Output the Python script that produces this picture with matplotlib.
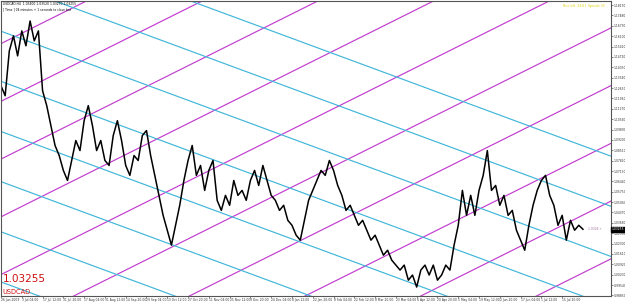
import numpy as np
import matplotlib
matplotlib.use("Agg")
import matplotlib.pyplot as plt

# USDCAD H4 closes, one value every 12 bars
closes = [
    1.1280, 1.1214, 1.1512, 1.1612, 1.1479, 1.1645, 1.1546, 1.1711, 1.1579, 1.1645,
    1.1247, 1.1148, 1.1015, 1.0883, 1.0816, 1.0717, 1.0650, 1.0783, 1.0916, 1.0849,
    1.1048, 1.1148, 1.1015, 1.0849, 1.0916, 1.0783, 1.0750, 1.0949, 1.1048, 1.0916,
    1.0750, 1.0684, 1.0816, 1.0783, 1.0949, 1.0982, 1.0816, 1.0684, 1.0551, 1.0418,
    1.0319, 1.0220, 1.0352, 1.0485, 1.0650, 1.0783, 1.0883, 1.0684, 1.0750, 1.0584,
    1.0717, 1.0783, 1.0518, 1.0451, 1.0551, 1.0485, 1.0650, 1.0551, 1.0584, 1.0518,
    1.0650, 1.0717, 1.0617, 1.0750, 1.0650, 1.0551, 1.0518, 1.0451, 1.0485, 1.0385,
    1.0352, 1.0286, 1.0253, 1.0385, 1.0518, 1.0584, 1.0650, 1.0717, 1.0684, 1.0783,
    1.0717, 1.0617, 1.0551, 1.0451, 1.0485, 1.0418, 1.0352, 1.0385, 1.0319, 1.0253,
    1.0286, 1.0220, 1.0153, 1.0186, 1.0120, 1.0087, 1.0054, 1.0087, 0.9987, 1.0021,
    0.9941, 1.0054, 1.0087, 1.0021, 1.0087, 0.9987, 1.0021, 1.0087, 1.0054, 1.0220,
    1.0352, 1.0584, 1.0418, 1.0551, 1.0418, 1.0584, 1.0684, 1.0849, 1.0584, 1.0617,
    1.0485, 1.0551, 1.0418, 1.0451, 1.0319, 1.0253, 1.0186, 1.0352, 1.0485, 1.0584,
    1.0650, 1.0684, 1.0551, 1.0485, 1.0352, 1.0418, 1.0253, 1.0385, 1.0319, 1.0352,
    1.03255,
]
bars_per_sample = 12
total_bars = 1761

date_labels = [
    "26 Jun 2009", "3 Jul 04:00", "17 Jul 12:00", "31 Jul 20:00", "17 Aug 04:00",
    "31 Aug 12:00", "14 Sep 20:00", "29 Sep 04:00", "13 Oct 12:00", "27 Oct 20:00",
    "11 Nov 04:00", "25 Nov 12:00", "9 Dec 20:00", "24 Dec 04:00", "8 Jan 12:00",
    "22 Jan 20:00", "8 Feb 04:00", "22 Feb 12:00", "8 Mar 20:00", "23 Mar 04:00",
    "6 Apr 12:00", "20 Apr 20:00", "5 May 04:00", "19 May 12:00", "2 Jun 20:00",
    "17 Jun 04:00", "1 Jul 12:00", "15 Jul 20:00",
]
bars_per_label = 60

price_ticks = [
    1.18170, 1.17480, 1.16790, 1.16100, 1.15410, 1.14720, 1.14030, 1.13340,
    1.12650, 1.11960, 1.11270, 1.10580, 1.09890, 1.09200, 1.08510, 1.07820,
    1.07130, 1.06440, 1.05750, 1.05060, 1.04370, 1.03680, 1.02990, 1.02300,
    1.01610, 1.00920, 1.00230, 0.99540, 0.98850,
]
price_min, price_max = 0.98815, 1.18440
last_price = 1.03255

# gann grid: two families of parallel lines
grid_base_price = 0.98815
magenta_anchor, magenta_step, magenta_slope = 210, 334, 0.000115
cyan_anchor, cyan_step, cyan_slope = 110, 392, -0.0000851

MAGENTA = "#c23ccf"
CYAN = "#41b6d8"

fig = plt.figure(figsize=(6.25, 3.03), dpi=100)
ax = fig.add_axes([1 / 625, 7 / 303, 610 / 625, 295 / 303])

xs = np.array([0, total_bars])
for k in range(-8, 8):
    x0 = magenta_anchor + magenta_step * k
    ax.plot(xs, grid_base_price + magenta_slope * (xs - x0), color=MAGENTA, lw=0.85)
    x0 = cyan_anchor + cyan_step * k
    ax.plot(xs, grid_base_price + cyan_slope * (xs - x0), color=CYAN, lw=0.85)

bars = np.arange(len(closes)) * bars_per_sample
ax.plot(bars, closes, color="black", lw=1.1)

ax.set_xlim(0, total_bars)
ax.set_ylim(price_min, price_max)

ax.yaxis.tick_right()
ax.set_yticks(price_ticks)
ax.set_yticklabels([f"{p:.5f}" for p in price_ticks], fontsize=2.2, color="#333333")
ax.set_xticks(np.arange(len(date_labels)) * bars_per_label)
ax.set_xticklabels(date_labels, fontsize=2.2, ha="left", color="#333333")
ax.tick_params(axis="both", length=1.2, width=0.5, pad=0.5, color="#555555")
for s in ax.spines.values():
    s.set_color("#555555")
    s.set_linewidth(0.8)

# current price box on the price scale
ax.annotate(f"{last_price:.5f}", xy=(1.0, last_price), xycoords=("axes fraction", "data"),
            xytext=(0.6, 0), textcoords="offset points", fontsize=2.2, color="white",
            va="center", ha="left",
            bbox=dict(boxstyle="square,pad=0.12", fc="black", ec="black"),
            annotation_clip=False)
ax.text(1695, last_price, f"{last_price:.4f} \u2191", fontsize=2.2, color="#a070a0",
        va="center", ha="left")

ax.text(0.004, 0.996, "USDCAD,H4  1.03400 1.03520 1.03270 1.03255", transform=ax.transAxes,
        fontsize=2.2, va="top", ha="left", color="black")
ax.text(0.004, 0.978, "[ Time ] 04 minutes + 1 seconds to close bar", transform=ax.transAxes,
        fontsize=2.2, va="top", ha="left", color="black")
ax.text(0.99, 0.99, "Time left: 04:01  Spread: 30", transform=ax.transAxes,
        fontsize=2.2, va="top", ha="right", color="#e0d000")

ax.text(0.003, 0.04, f"{last_price:.5f}", transform=ax.transAxes, fontsize=7.5,
        color="#cc1111", va="bottom", ha="left")
ax.text(0.003, 0.005, "USDCAD", transform=ax.transAxes, fontsize=4.8,
        color="#cc1111", va="bottom", ha="left")

fig.savefig("out.png", dpi=100, facecolor="white")
